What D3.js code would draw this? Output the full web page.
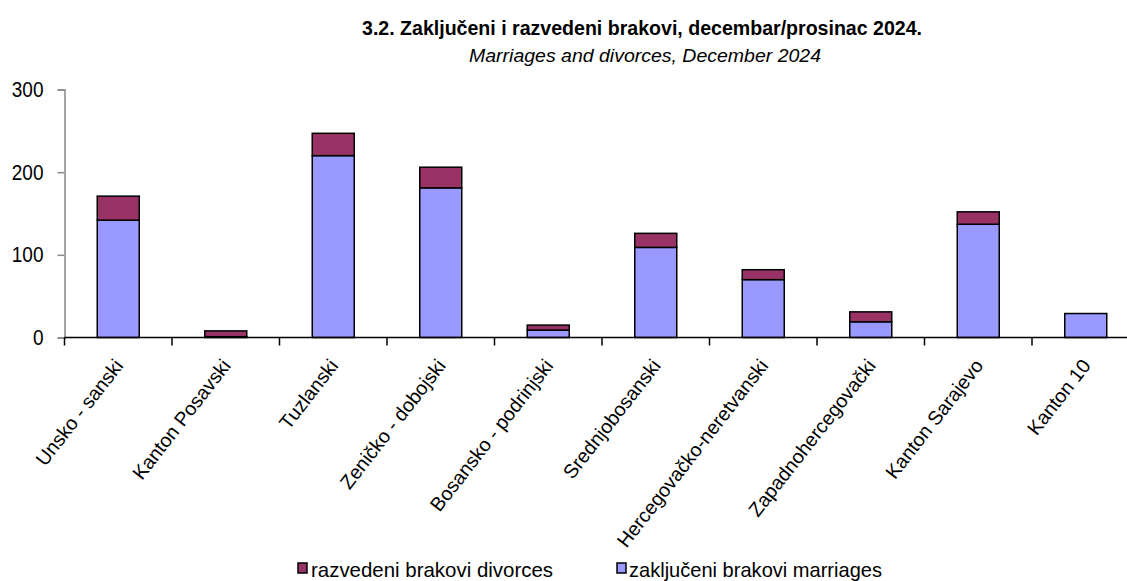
<!DOCTYPE html>
<html>
<head>
<meta charset="utf-8">
<script src="https://cdn.jsdelivr.net/npm/d3@7"></script>
<style>
  html, body { margin: 0; padding: 0; background: #fff; }
  svg { display: block; font-family: "Liberation Sans", Arial, sans-serif; }
</style>
</head>
<body>
<div id="chart"></div>
<script>
const cantons = ["Unsko - sanski", "Kanton Posavski", "Tuzlanski", "Zeničko - dobojski",
  "Bosansko - podrinjski", "Srednjobosanski", "Hercegovačko-neretvanski",
  "Zapadnohercegovački", "Kanton Sarajevo", "Kanton 10"];
const marriages = [142, 1, 220, 181, 9, 109, 70, 19, 137, 29];
const divorces  = [29, 7, 27, 25, 6, 17, 12, 12, 15, 0];
const yTicks = [0, 100, 200, 300];
const seriesNames = ["razvedeni brakovi divorces", "zaključeni brakovi marriages"];
const colors = { marriages: "#9999ff", divorces: "#993366" };

const W = 1127, H = 581;
const stretch = 1.27; // text in the source is taller than wide
const svg = d3.select("#chart").append("svg").attr("width", W).attr("height", H);

// plot runs past the right edge, like the original
const left = 64.5, step = 107.5;
const x = d3.scaleBand().domain(cantons).range([left, left + step * cantons.length]).padding(0);
const y = d3.scaleLinear().domain([0, 300]).range([337.5, 89.5]);
const barW = 42;

const rows = cantons.map((c, i) => ({ c, m: marriages[i], d: divorces[i] }));

// titles
svg.append("text").attr("transform", `translate(642,35) scale(1,${stretch})`)
  .attr("text-anchor", "middle")
  .attr("font-weight", "bold").attr("font-size", 16)
  .attr("textLength", 560).attr("lengthAdjust", "spacingAndGlyphs")
  .text("3.2. Zaključeni i razvedeni brakovi, decembar/prosinac 2024.");
svg.append("text").attr("transform", `translate(645,62) scale(1,${stretch})`)
  .attr("text-anchor", "middle")
  .attr("font-style", "italic").attr("font-size", 15)
  .attr("textLength", 352).attr("lengthAdjust", "spacingAndGlyphs")
  .text("Marriages and divorces, December 2024");

// bars
const g = svg.append("g");
g.selectAll("rect.m").data(rows).join("rect").attr("class", "m")
  .attr("x", d => x(d.c) + (x.bandwidth() - barW) / 2)
  .attr("width", barW)
  .attr("y", d => y(d.m))
  .attr("height", d => y(0) - y(d.m))
  .attr("fill", colors.marriages).attr("stroke", "#000").attr("stroke-width", 1.5);
g.selectAll("rect.d").data(rows.filter(d => d.d > 0)).join("rect").attr("class", "d")
  .attr("x", d => x(d.c) + (x.bandwidth() - barW) / 2)
  .attr("width", barW)
  .attr("y", d => y(d.m + d.d))
  .attr("height", d => y(d.m) - y(d.m + d.d))
  .attr("fill", colors.divorces).attr("stroke", "#000").attr("stroke-width", 1.5);

// y axis
const yAxis = svg.append("g").attr("transform", `translate(${left},0)`)
  .call(d3.axisLeft(y).tickValues(yTicks).tickSize(7).tickPadding(14));
yAxis.select(".domain").attr("stroke", "#888").attr("stroke-width", 1.5);
yAxis.selectAll(".tick line").attr("stroke", "#888").attr("stroke-width", 1.5);
yAxis.selectAll(".tick text").attr("font-size", 19).attr("fill", "#000")
  .attr("font-family", "Liberation Sans, Arial, sans-serif")
  .attr("dy", null).attr("y", 0)
  .attr("transform", `translate(-21,7) scale(1,1.15)`).attr("x", 0);

// x axis: line plus ticks at band boundaries
const xg = svg.append("g");
xg.append("line").attr("x1", left).attr("x2", W).attr("y1", y(0)).attr("y2", y(0))
  .attr("stroke", "#000").attr("stroke-width", 1.5);
const bounds = cantons.map(c => x(c)).concat([x.range()[1]]);
xg.selectAll("line.t").data(bounds).join("line").attr("class", "t")
  .attr("x1", d => d).attr("x2", d => d)
  .attr("y1", y(0)).attr("y2", y(0) + 8)
  .attr("stroke", "#000").attr("stroke-width", 1.5);
xg.selectAll("text").data(cantons).join("text")
  .attr("transform", d => `translate(${x(d) + x.bandwidth() / 2 + 6},${366}) rotate(-52)`)
  .attr("text-anchor", "end").attr("font-size", 19.6)
  .text(d => d);

// legend
const legend = [
  { name: seriesNames[0], color: colors.divorces, sx: 298, tx: 311, tw: 242 },
  { name: seriesNames[1], color: colors.marriages, sx: 617, tx: 629, tw: 253 }
];
const lg = svg.append("g");
lg.selectAll("rect").data(legend).join("rect")
  .attr("x", d => d.sx).attr("y", 563).attr("width", 9).attr("height", 10)
  .attr("fill", d => d.color).attr("stroke", "#000").attr("stroke-width", 1.5);
lg.selectAll("text").data(legend).join("text")
  .attr("transform", d => `translate(${d.tx},577) scale(1,1.2)`)
  .attr("font-size", 17)
  .attr("textLength", d => d.tw).attr("lengthAdjust", "spacingAndGlyphs")
  .text(d => d.name);
</script>
</body>
</html>
